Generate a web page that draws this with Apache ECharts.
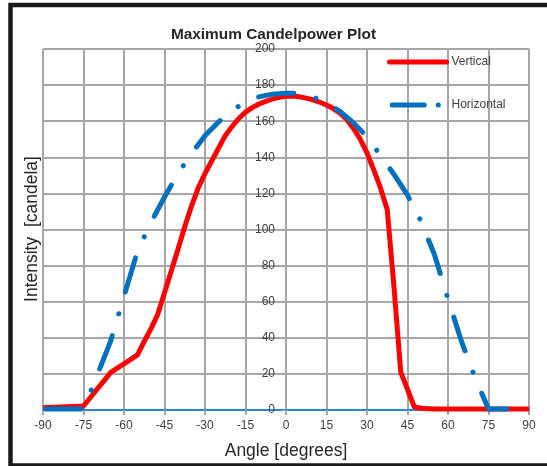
<!DOCTYPE html>
<html>
<head>
<meta charset="utf-8">
<script src="https://cdn.jsdelivr.net/npm/echarts@6/dist/echarts.min.js"></script>
<style>html,body{margin:0;padding:0;background:#fff;}#c{width:547px;height:466px;}</style>
</head>
<body>
<div id="c"></div>
<script>
const vertAngles = [-90,-75,-72.5,-70,-67.5,-65,-62.5,-60,-57.5,-55,-52.5,-50,-47.5,-45,-42.5,-40,-37.5,-35,-32.5,-30,-27.5,-25,-22.5,-20,-17.5,-15,-12.5,-10,-7.5,-5,-2.5,0,2.5,5,7.5,10,12.5,15,17.5,20,22.5,25,27.5,30,32.5,35,37.5,40,42.5,45,47.5,50,55,60,70,80,90];
const vertValues = [1.3,2.2,6.8,11.5,16,20.7,23.2,25.6,28,30.5,38,45,53,65,77,89,101.5,113,123,131,138,145,152,157,161.5,165,167.5,169.5,171,172.3,173.2,173.8,174,173.5,172.8,171.8,170.5,169,167,164.5,161,156,150,142.5,133,123,111,68,21,11.4,1.8,1,0.6,0.5,0.5,0.5,0.5];
const horzAngles = [-90,-85,-80,-75,-70,-65,-60,-55,-50,-45,-40,-35,-30,-25,-20,-15,-10,-5,0,5,10,15,20,25,30,35,40,45,50,55,60,65,70,75,80,85,90];
const horzValues = [0.5,0.5,0.5,0.5,19,38,63,88,104,118,131,142,152,159.5,166,170.5,173.5,175,175.5,175.5,173.5,170,165.5,159,151.5,141,130.5,119,104.5,86,61.5,38,18,0.5,0.5,0.5,0.5];
const xTicks = {min: -90, max: 90, step: 15};
const yTicks = {min: 0, max: 200, step: 20};

const FONT = 'Liberation Sans, Arial, sans-serif';
const GRID = {left: 43, top: 49, width: 486, height: 361};
// y axis crosses the x axis at angle 0
const yAxisOffset = -GRID.width * (0 - xTicks.min) / (xTicks.max - xTicks.min);

const chart = echarts.init(document.getElementById('c'), null, {renderer: 'canvas'});
const pairs = (xs, ys) => xs.map((x, i) => [x, ys[i]]);

chart.setOption({
  animation: false,
  backgroundColor: '#fff',
  title: {
    text: 'Maximum Candelpower Plot',
    left: 'center', top: 22,
    textStyle: {fontFamily: FONT, fontSize: 15.4, fontWeight: 'bold', color: '#262626'}
  },
  legend: {
    orient: 'vertical', left: 387, top: 56, padding: 0,
    itemWidth: 57, itemHeight: 14, itemGap: 31,
    itemStyle: {opacity: 0},
    lineStyle: {width: 5, cap: 'round'},
    textStyle: {fontFamily: FONT, fontSize: 12, color: '#404040'},
    data: [
      {name: 'Vertical'},
      {name: 'Horizontal', lineStyle: {type: [32, 14, 0.1, 30], cap: 'round', width: 5}}
    ]
  },
  grid: Object.assign({containLabel: false, outerBoundsMode: 'none'}, GRID),
  xAxis: {
    type: 'value', min: xTicks.min, max: xTicks.max, interval: xTicks.step,
    name: 'Angle [degrees]', nameLocation: 'middle', nameGap: 32,
    nameTextStyle: {fontFamily: FONT, fontSize: 17.5, color: '#262626'},
    axisLine: {show: true, onZero: false, lineStyle: {color: '#2f86cc', width: 2}},
    axisTick: {show: true, length: 5, lineStyle: {color: '#a6a6a6', width: 2}},
    axisLabel: {fontFamily: FONT, fontSize: 12, color: '#404040', margin: 10},
    splitLine: {show: true, lineStyle: {color: '#a6a6a6', width: 2}}
  },
  yAxis: {
    type: 'value', min: yTicks.min, max: yTicks.max, interval: yTicks.step,
    position: 'left', offset: yAxisOffset,
    axisLine: {show: true, onZero: false, lineStyle: {color: '#a6a6a6', width: 2}},
    axisTick: {show: true, length: 4, lineStyle: {color: '#a6a6a6', width: 1}},
    axisLabel: {fontFamily: FONT, fontSize: 12, color: '#404040', margin: 11},
    splitLine: {show: true, lineStyle: {color: '#a6a6a6', width: 2}}
  },
  series: [
    {
      name: 'Vertical', type: 'line', symbol: 'none',
      data: pairs(vertAngles, vertValues),
      itemStyle: {color: '#ff0000'},
      lineStyle: {color: '#ff0000', width: 5, join: 'round'}
    },
    {
      name: 'Horizontal', type: 'line', symbol: 'none',
      data: pairs(horzAngles, horzValues),
      itemStyle: {color: '#0070c0'},
      lineStyle: {color: '#0070c0', width: 5, type: [35.5, 22.8, 0.1, 22.8], dashOffset: -2.7, cap: 'round', join: 'round'}
    }
  ],
  graphic: [
    {
      type: 'text', x: 32, y: 229, rotation: Math.PI / 2,
      style: {text: 'Intensity  [candela]', fontFamily: FONT, fontSize: 17.5, fill: '#262626', align: 'center', verticalAlign: 'middle'}
    },
    {
      type: 'rect', silent: true,
      shape: {x: 10.5, y: 5, width: 600, height: 460.5},
      style: {fill: null, stroke: '#1a1a1a', lineWidth: 4.5}
    }
  ]
});
</script>
</body>
</html>
